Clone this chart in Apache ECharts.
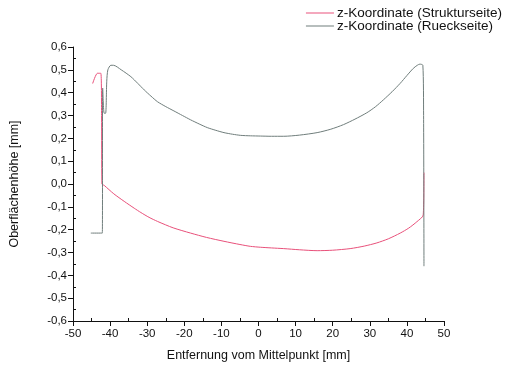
<!DOCTYPE html>
<html>
<head>
<meta charset="utf-8">
<script src="https://cdn.jsdelivr.net/npm/echarts@6/dist/echarts.min.js"></script>
<style>
  html, body { margin: 0; padding: 0; background: #fff; }
  #chart { width: 507px; height: 367px; }
</style>
</head>
<body>
<div id="chart"></div>
<script>
// distance from centre [mm] and surface height [mm]
const strukturX = [-44.7, -43.4, -42.5, -42.3, -42.2, -41.6, -39, -36.2, -33.5, -31.7, -29.5, -27.2, -23, -18.3, -14, -9.3, -5, -2.2, 0.5, 3.5, 6.8, 11, 15.8, 20, 24.7, 28.5, 31.9, 35, 38.2, 40.5, 42.7, 44.4, 44.6]
const strukturY = [0.44, 0.485, 0.485, 0.3, 0.0, -0.006, -0.043, -0.076, -0.106, -0.125, -0.146, -0.164, -0.192, -0.215, -0.234, -0.251, -0.265, -0.273, -0.277, -0.28, -0.283, -0.288, -0.292, -0.29, -0.283, -0.272, -0.258, -0.24, -0.215, -0.193, -0.165, -0.136, 0.05]

const rueckX = [-45.2, -42.1, -42.0, -41.6, -41.2, -40.9, -40.6, -39.8, -39.1, -37, -34.4, -32.5, -30.8, -29, -27.2, -25, -22.8, -20.5, -18.3, -16, -13.8, -11.5, -9.3, -7, -4.8, -2.2, 0.5, 3.5, 6.8, 11, 15.8, 19.5, 22.9, 26, 29.2, 31.5, 33.7, 36, 38.2, 40, 41.7, 42.8, 43.5, 44.3, 44.5, 44.6]
const rueckY = [-0.215, -0.215, 0.42, 0.31, 0.31, 0.45, 0.5, 0.52, 0.52, 0.5, 0.47, 0.44, 0.412, 0.385, 0.36, 0.339, 0.32, 0.3, 0.281, 0.263, 0.247, 0.235, 0.225, 0.218, 0.213, 0.211, 0.21, 0.209, 0.209, 0.214, 0.225, 0.24, 0.26, 0.284, 0.312, 0.338, 0.369, 0.404, 0.441, 0.475, 0.506, 0.52, 0.525, 0.52, 0.3, -0.36]

const seriesNames = ['z-Koordinate (Strukturseite)', 'z-Koordinate (Rueckseite)']
const seriesColors = ['#e8507a', '#6f7d7b']

const zip = (xs, ys) => xs.map((x, i) => [x, ys[i]])

const chart = echarts.init(document.getElementById('chart'))

const font = 'Liberation Sans, Arial, sans-serif'
const axisFont = { fontFamily: font, fontSize: 11.5, color: '#111' }
const tickLine = { color: '#111', width: 1 }

// second set of axes only draws the small inward minor ticks
const minorAxis = (min, max, interval) => ({
  type: 'value',
  min, max, interval,
  axisLine: { show: false, onZero: false },
  axisTick: { show: false, inside: true },
  minorTick: { show: true, splitNumber: 2, length: 3, lineStyle: tickLine },
  axisLabel: { show: false },
  splitLine: { show: false }
})

chart.setOption({
  animation: false,
  textStyle: { fontFamily: font },
  grid: { left: 72, right: 63, top: 47, bottom: 43, containLabel: false },
  legend: {
    orient: 'vertical',
    right: 0,
    top: 1,
    itemWidth: 28,
    itemHeight: 1,
    itemGap: -1,
    icon: 'rect',
    textStyle: { fontSize: 13.5, color: '#111', padding: [0, 0, 0, -2] },
    data: seriesNames
  },
  xAxis: [
    {
      type: 'value',
      min: -50,
      max: 50,
      interval: 10,
      name: 'Entfernung vom Mittelpunkt [mm]',
      nameLocation: 'middle',
      nameGap: 28,
      nameTextStyle: { fontSize: 12.5, color: '#111' },
      axisLine: { show: true, onZero: false, lineStyle: tickLine },
      axisTick: { show: true, inside: false, length: 5, lineStyle: tickLine },
      axisLabel: { ...axisFont, margin: 7 },
      splitLine: { show: false }
    },
    Object.assign(minorAxis(-50, 50, 10), { position: 'bottom' })
  ],
  yAxis: [
    {
      type: 'value',
      min: -0.6,
      max: 0.6,
      interval: 0.1,
      name: 'Oberflächenhöhe [mm]',
      nameLocation: 'middle',
      nameGap: 52,
      nameTextStyle: { fontSize: 12.5, color: '#111' },
      axisLine: { show: true, onZero: false, lineStyle: tickLine },
      axisTick: { show: true, inside: false, length: 5, lineStyle: tickLine },
      axisLabel: {
        ...axisFont,
        margin: 6,
        formatter: v => (Math.abs(v) < 1e-9 ? 0 : v).toFixed(1).replace('.', ',')
      },
      splitLine: { show: false }
    },
    Object.assign(minorAxis(-0.6, 0.6, 0.1), { position: 'left' })
  ],
  series: [
    {
      name: seriesNames[0],
      type: 'line',
      data: zip(strukturX, strukturY),
      showSymbol: false,
      smooth: 0.25,
      color: seriesColors[0],
      lineStyle: { width: 1, color: seriesColors[0] }
    },
    {
      name: seriesNames[1],
      type: 'line',
      data: zip(rueckX, rueckY),
      showSymbol: false,
      smooth: 0.25,
      color: seriesColors[1],
      lineStyle: { width: 1, color: seriesColors[1] }
    }
  ]
})
</script>
</body>
</html>
